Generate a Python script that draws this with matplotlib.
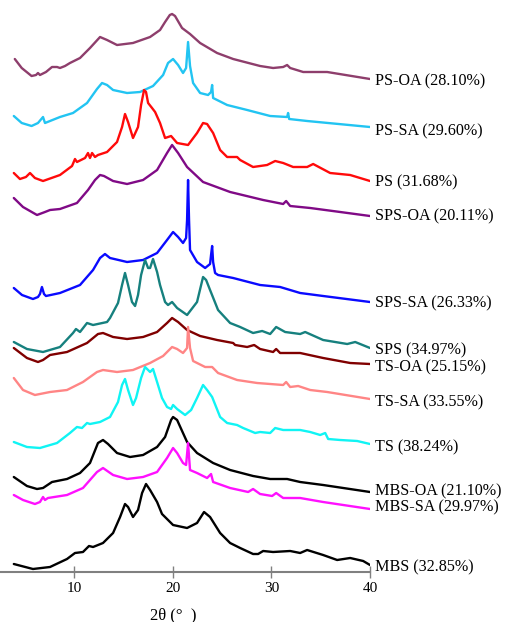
import matplotlib
matplotlib.use('Agg')
import matplotlib.pyplot as plt

plt.rcParams['font.family'] = ['Liberation Serif', 'DejaVu Serif']

# 2theta (deg) and stacked intensity (offset already included) of every pattern
ps_oa_x = [4.0, 4.7, 5.7, 6.15, 6.35, 6.55, 7.16, 7.77, 8.28, 8.58, 9.09, 9.59,
           10.61, 11.62, 12.64, 13.35, 14.36, 15.98, 17.71, 18.72, 19.23, 19.71,
           19.94, 20.24, 20.95, 21.76, 22.78, 24.5, 26.13, 28.86, 30.18, 31.2,
           31.6, 31.91, 33.23, 35.66, 40.0]
ps_oa_y = [513, 504, 496, 497, 499, 497, 500, 505, 505, 504, 506, 509,
           514, 524, 535, 532, 527, 529, 535, 542, 550, 557,
           558, 556, 544, 538, 529, 519, 513, 506, 504, 505,
           507, 504, 500, 500, 493]

ps_sa_x = [3.9, 4.7, 5.7, 6.35, 6.86, 7.06, 8.58, 9.9, 11.32, 12.33, 12.84,
           13.35, 13.96, 15.38, 16.69, 18.01, 19.03, 19.53, 20.04, 20.55,
           21.05, 21.36, 21.56, 21.76, 22.07, 22.78, 23.59, 23.89, 24.0, 24.1,
           25.52, 27.55, 29.88, 31.6, 31.7, 31.81, 33.63, 40.0]
ps_sa_y = [456, 449, 446, 449, 455, 449, 455, 459, 469, 483, 489,
           487, 482, 479, 480, 486, 497, 509, 513, 507,
           499, 504, 530, 506, 489, 479, 477, 480, 487, 474,
           467, 462, 456, 455, 459, 453, 451, 445]

ps_x = [3.9, 4.52, 5.13, 5.54, 6.04, 6.86, 8.58, 9.8, 10.1, 10.3, 11.12,
        11.42, 11.62, 11.83, 12.13, 12.43, 13.35, 14.36, 14.87, 15.17, 15.48,
        15.98, 16.49, 16.8, 17.1, 17.3, 17.51, 17.91, 18.22, 18.72, 19.23,
        19.84, 20.45, 21.56, 22.47, 23.08, 23.49, 24.1, 24.81, 25.52, 26.53,
        26.84, 28.15, 29.57, 30.39, 31.2, 32.21, 33.63, 34.24, 35.96, 37.99,
        40.0]
ps_y = [399, 393, 395, 399, 394, 391, 397, 406, 413, 410, 414,
        419, 414, 419, 415, 417, 420, 430, 445, 458, 450,
        434, 445, 467, 482, 480, 469, 464, 460, 449, 434,
        436, 429, 427, 439, 449, 448, 439, 422, 415, 415,
        412, 405, 407, 411, 409, 405, 405, 408, 399, 397,
        391]

sps_oa_x = [3.9, 4.83, 6.25, 7.06, 7.57, 8.58, 10.3, 11.42, 12.13, 12.64,
            13.04, 13.96, 15.38, 17.0, 18.42, 19.43, 19.94, 20.55, 21.46,
            23.08, 25.82, 29.17, 31.2, 31.5, 31.91, 33.94, 36.98, 40.0]
sps_oa_y = [374, 365, 357, 360, 362, 363, 369, 382, 392, 397,
            396, 391, 388, 392, 402, 419, 427, 419, 405,
            390, 380, 372, 368, 371, 366, 364, 360, 356]

sps_sa_x = [3.9, 4.73, 5.84, 6.35, 6.55, 6.75, 6.96, 7.16, 8.58, 10.61,
            11.93, 12.64, 13.14, 13.65, 15.38, 17.0, 18.42, 19.43, 20.04,
            20.55, 21.05, 21.36, 21.46, 21.56, 21.66, 21.76, 22.47, 23.29,
            23.79, 23.89, 24.0, 24.1, 24.3, 24.6, 26.13, 28.86, 30.89, 32.92,
            35.25, 40.0]
sps_sa_y = [284, 277, 273, 275, 278, 285, 278, 276, 279, 287,
            302, 314, 318, 314, 310, 312, 319, 332, 340,
            335, 329, 334, 352, 392, 352, 322, 310, 304,
            308, 317, 326, 310, 299, 297, 294, 287, 285, 279,
            276, 270]

sps_x = [3.9, 5.23, 6.86, 8.58, 9.9, 10.2, 10.61, 11.32, 11.93, 13.35,
         13.65, 14.46, 14.87, 15.17, 15.48, 15.88, 16.19, 16.49, 16.8, 17.2,
         17.51, 17.71, 18.01, 18.42, 18.72, 19.23, 19.53, 19.94, 20.45, 21.46,
         22.47, 23.08, 23.39, 23.79, 24.6, 25.82, 26.84, 28.15, 29.07, 29.88,
         30.49, 31.4, 32.92, 33.43, 35.25, 37.69, 38.5, 40.0]
sps_y = [230, 223, 220, 225, 239, 243, 240, 249, 247, 250,
         254, 269, 287, 299, 287, 270, 266, 277, 297, 312,
         304, 304, 313, 300, 287, 270, 267, 270, 264, 257,
         270, 295, 292, 282, 262, 249, 245, 239, 241, 238,
         245, 240, 238, 240, 232, 228, 230, 224]

ts_oa_x = [3.9, 5.23, 6.35, 6.86, 7.57, 9.29, 11.32, 12.43, 12.94, 13.96,
           15.38, 17.0, 18.42, 19.43, 19.94, 20.55, 21.46, 22.78, 24.5, 26.13,
           26.33, 27.55, 28.26, 28.86, 30.18, 30.49, 30.89, 32.92, 35.25,
           37.99, 40.0]
ts_oa_y = [224, 214, 210, 212, 217, 220, 229, 238, 239, 235,
           233, 235, 240, 249, 254, 250, 242, 236, 232, 229,
           227, 225, 227, 223, 220, 223, 219, 219, 214,
           209, 208]

ts_sa_x = [3.9, 4.83, 6.04, 7.57, 9.29, 10.91, 12.33, 12.94, 14.36, 15.98,
           17.71, 19.03, 19.94, 20.45, 21.05, 21.46, 21.56, 21.76, 22.07,
           23.29, 24.0, 24.6, 26.53, 28.56, 29.88, 31.2, 31.5, 31.91, 32.72,
           33.94, 35.66, 40.0]
ts_sa_y = [194, 182, 177, 180, 182, 190, 200, 202, 200, 202,
           209, 216, 225, 223, 219, 224, 245, 224, 211,
           205, 205, 199, 192, 189, 188, 187, 190, 185, 186,
           182, 180, 173]

ts_x = [3.9, 5.23, 6.55, 8.28, 9.59, 10.3, 10.81, 11.32, 11.62, 12.64,
        13.65, 14.46, 14.87, 15.17, 15.48, 15.98, 16.29, 16.8, 17.2, 17.51,
        17.71, 18.01, 18.42, 18.92, 19.43, 19.84, 20.04, 20.45, 21.26, 21.87,
        22.47, 23.08, 23.49, 24.0, 24.81, 25.52, 26.53, 27.14, 28.36, 28.86,
        29.88, 30.39, 31.2, 32.92, 33.94, 34.95, 35.46, 35.76, 36.98, 38.7,
        40.0]
ts_y = [130, 125, 124, 129, 139, 145, 144, 149, 148, 150,
        155, 170, 187, 193, 182, 167, 174, 194, 205, 202,
        200, 203, 190, 174, 165, 163, 167, 163, 157, 162,
        174, 187, 182, 175, 155, 149, 147, 144, 139, 140,
        139, 144, 142, 142, 140, 137, 139, 133, 132, 131,
        128]

mbs_oa_x = [3.9, 5.23, 6.25, 6.86, 7.77, 9.29, 10.61, 11.62, 12.43, 12.94,
            13.45, 14.36, 15.68, 17.0, 18.42, 19.23, 19.84, 20.04, 20.45,
            21.46, 22.47, 24.1, 25.82, 28.15, 29.88, 31.6, 32.92, 35.25, 40.0]
mbs_oa_y = [95, 86, 83, 84, 90, 93, 99, 109, 129, 132,
            128, 119, 115, 117, 125, 135, 152, 155, 152,
            130, 119, 109, 102, 96, 93, 93, 90, 87, 80]

mbs_sa_x = [3.9, 4.83, 6.04, 6.55, 6.86, 7.06, 7.36, 9.29, 10.91, 12.33,
            12.94, 13.96, 15.38, 17.0, 18.42, 19.43, 20.04, 20.45, 21.05,
            21.36, 21.56, 21.76, 22.47, 23.49, 23.89, 24.1, 25.82, 27.65,
            28.15, 28.86, 30.08, 30.49, 31.2, 32.92, 35.25, 40.0]
mbs_sa_y = [77, 72, 68, 70, 75, 72, 74, 77, 84, 100,
            104, 97, 93, 95, 100, 114, 124, 119, 109,
            107, 129, 102, 99, 94, 98, 90, 84, 80,
            83, 78, 76, 79, 74, 74, 70, 63]

mbs_x = [3.9, 5.84, 7.57, 9.29, 10.1, 10.91, 11.52, 11.93, 12.94, 13.96,
         14.67, 15.17, 15.48, 15.98, 16.49, 16.9, 17.3, 17.71, 18.42, 18.92,
         20.04, 21.46, 22.47, 23.18, 23.79, 24.81, 25.82, 26.84, 28.15, 28.66,
         29.17, 30.18, 31.91, 32.92, 33.63, 35.25, 36.67, 37.99, 39.31, 40.0]
mbs_y = [8, 3, 5, 13, 19, 20, 26, 25, 29, 39,
         55, 68, 65, 55, 62, 79, 88, 82, 70, 58,
         47, 44, 49, 60, 55, 39, 29, 24, 18, 18,
         21, 20, 21, 19, 22, 17, 12, 14, 11, 7]

names = ['PS-OA (28.10%)', 'PS-SA (29.60%)', 'PS (31.68%)',
         'SPS-OA (20.11%)', 'SPS-SA (26.33%)', 'SPS (34.97%)',
         'TS-OA (25.15%)', 'TS-SA (33.55%)', 'TS (38.24%)',
         'MBS-OA (21.10%)', 'MBS-SA (29.97%)', 'MBS (32.85%)']
xs = [ps_oa_x, ps_sa_x, ps_x, sps_oa_x, sps_sa_x, sps_x,
      ts_oa_x, ts_sa_x, ts_x, mbs_oa_x, mbs_sa_x, mbs_x]
ys = [ps_oa_y, ps_sa_y, ps_y, sps_oa_y, sps_sa_y, sps_y,
      ts_oa_y, ts_sa_y, ts_y, mbs_oa_y, mbs_sa_y, mbs_y]

# Line colours, one for each pattern
COLORS = ['#8e3e6c', '#22c4f2', '#ff0a0a', '#800a86', '#0a0aff', '#16807e',
          '#800000', '#ff8585', '#10f4f4', '#000000', '#ff10ff', '#000000']
# Vertical position of the right hand labels
LABEL_Y = [491, 441, 390, 356, 269, 222, 205, 170, 125, 81, 65, 5]


def draw_patterns():
    """Draw the stacked XRD patterns with labels on the right
    :return:
    """
    fig = plt.figure(figsize=(5.08, 6.22), dpi=100)
    ax = fig.add_axes([0.0, 50 / 622, 370 / 508, 572 / 622])
    for x, y, c in zip(xs, ys, COLORS):
        ax.plot(x, y, color=c, lw=1.7, solid_joinstyle='round',
                solid_capstyle='round')

    # Sample names at the end of each curve
    for name, ly in zip(names, LABEL_Y):
        ax.text(40.5, ly, name, fontsize=11.6, ha='left', va='center',
                clip_on=False)

    ax.set_xlim(2.5, 40)
    ax.set_ylim(0, 572)
    ax.set_xticks([10, 20, 30, 40])
    ax.set_yticks([])
    for side in ['left', 'right', 'top']:
        ax.spines[side].set_visible(False)
    ax.spines['bottom'].set_color('#808080')
    ax.spines['bottom'].set_linewidth(1.5)
    ax.tick_params(axis='x', direction='inout', length=8, width=1,
                   color='#808080', labelsize=11, pad=3)
    fig.text(173 / 508, 1 - 615 / 622, '2\u03b8 (\u00b0  )', fontsize=12,
             ha='center', va='center')
    fig.savefig('out.png', dpi=100)


draw_patterns()
